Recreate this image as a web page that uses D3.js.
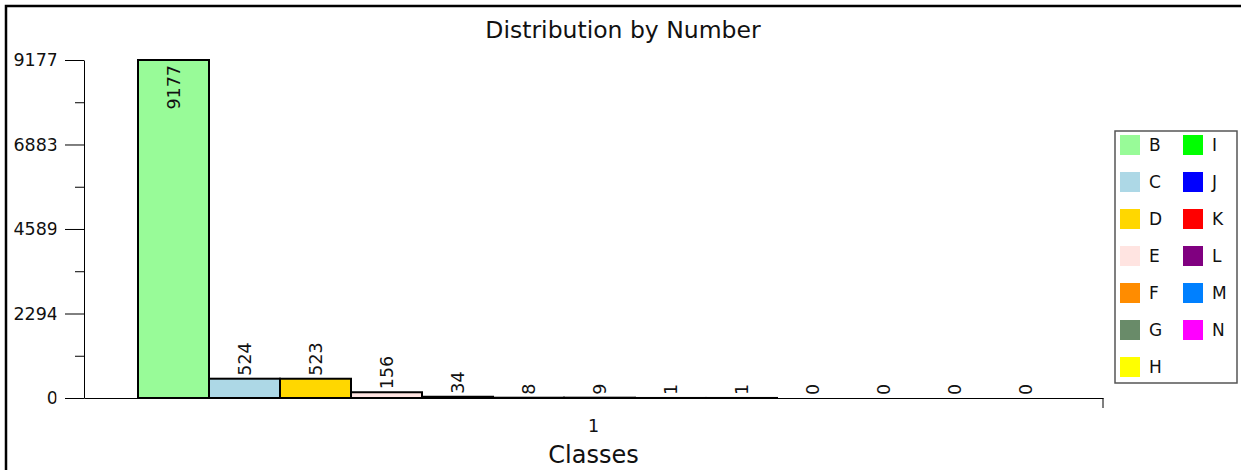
<!DOCTYPE html>
<html>
<head>
<meta charset="utf-8">
<script src="https://cdn.jsdelivr.net/npm/d3@7"></script>
<style>
  body { margin:0; background:#fff; }
  text { font-family:"DejaVu Sans", sans-serif; fill:#111; }
</style>
</head>
<body>
<svg></svg>
<script>
var screen = {width:1241,height:470}

// data
var classes = ["B","C","D","E","F","G","H","I","J","K","L","M","N"]
var counts = [9177,524,523,156,34,8,9,1,1,0,0,0,0]
var colors = ["#98fb98","#add8e6","#ffd700","#ffe4e1","#ff8c00","#698b69","#ffff00",
              "#00ff00","#0000ff","#ff0000","#800080","#0080ff","#ff00ff"]
var yTicks = [0,2294,4589,6883,9177]
var yMinor = [1147,3442,5736,8030]
var xCats = ["1"]

var svg = d3.select("svg")
    .attr("width",screen.width)
    .attr("height",screen.height)

// outer frame
svg.append("rect")
    .attr("x",6).attr("y",6)
    .attr("width",1300).attr("height",600)
    .attr("fill","none").attr("stroke","#000").attr("stroke-width",2.5)

svg.append("text")
    .attr("x",623).attr("y",38)
    .attr("text-anchor","middle")
    .style("font-size","23.5px")
    .text("Distribution by Number")

var yScale = d3.scaleLinear()
    .domain([0,9177])
    .range([398,60])

var xScale = d3.scaleBand()
    .domain(classes)
    .range([138,1061])

var catScale = d3.scaleBand()
    .domain(xCats)
    .range([84,1103])

// y axis, labels clipped like the original
svg.append("clipPath").attr("id","yclip")
  .append("rect").attr("x",0).attr("y",-30).attr("width",56.5).attr("height",60)

var yAxisG = svg.append("g")
    .attr("transform","translate(84,0)")
    .call(d3.axisLeft(yScale).tickValues(yTicks).tickSize(19).tickSizeOuter(0).tickPadding(5).tickFormat(d3.format("d")))
yAxisG.selectAll("text")
    .attr("clip-path","url(#yclip)")
    .attr("transform","translate(-84,0)")
    .attr("x",58)
    .style("font-size","17.5px")
yAxisG.select(".domain").attr("stroke","#000")
yAxisG.selectAll(".tick line").attr("stroke","#000")

svg.append("g")
    .attr("transform","translate(84,0)")
    .call(d3.axisLeft(yScale).tickValues(yMinor).tickSize(9).tickFormat(""))
    .select(".domain").remove()

// x axis
var xAxisG = svg.append("g")
    .attr("transform","translate(0,398)")
    .call(d3.axisBottom(catScale).tickSize(0).tickSizeOuter(0).tickPadding(22))
xAxisG.selectAll("text").style("font-size","17.5px").attr("fill","#111")
xAxisG.select(".domain").attr("stroke","#000")
xAxisG.append("line")
    .attr("x1",catScale.range()[1]).attr("x2",catScale.range()[1])
    .attr("y1",0).attr("y2",10)
    .attr("stroke","#000")

svg.append("text")
    .attr("x",catScale(xCats[0]) + catScale.bandwidth()/2)
    .attr("y",463)
    .attr("text-anchor","middle")
    .style("font-size","24px")
    .text("Classes")

// bars
var bars = svg.append("g").attr("id","bars")
bars.selectAll("rect")
    .data(counts)
    .enter()
    .append("rect")
    .attr("x",function(d,i){return xScale(classes[i])})
    .attr("width",xScale.bandwidth())
    .attr("y",function(d){return yScale(d)})
    .attr("height",function(d){return yScale(0)-yScale(d)})
    .attr("fill",function(d,i){return colors[i]})
    .attr("stroke",function(d){return d>0 ? "#000" : "none"})
    .attr("stroke-width",2)

// value labels, rotated
bars.selectAll("text")
    .data(counts)
    .enter()
    .append("text")
    .attr("transform",function(d,i){
        var x = xScale(classes[i]) + xScale.bandwidth()/2 + 6
        var y = d > 5000 ? yScale(d) + 5 : yScale(d) - 3
        return "translate("+x+","+y+") rotate(-90)"
    })
    .attr("text-anchor",function(d){return d > 5000 ? "end" : "start"})
    .style("font-size","17.5px")
    .text(function(d){return d})

// legend
var legend = svg.append("g").attr("transform","translate(1115,131)")
legend.append("rect")
    .attr("width",122).attr("height",252)
    .attr("fill","#fff").attr("stroke","#555").attr("stroke-width",1.5)

var items = legend.selectAll("g.item")
    .data(classes)
    .enter()
    .append("g")
    .attr("class","item")
    .attr("transform",function(d,i){
        var col = i < 7 ? 0 : 1
        var row = i < 7 ? i : i - 7
        return "translate("+(5+col*63)+","+(4+row*37)+")"
    })
items.append("rect")
    .attr("width",20).attr("height",20)
    .attr("fill",function(d,i){return colors[i]})
items.append("text")
    .attr("x",29).attr("y",16)
    .style("font-size","17px")
    .text(function(d){return d})
</script>
</body>
</html>
